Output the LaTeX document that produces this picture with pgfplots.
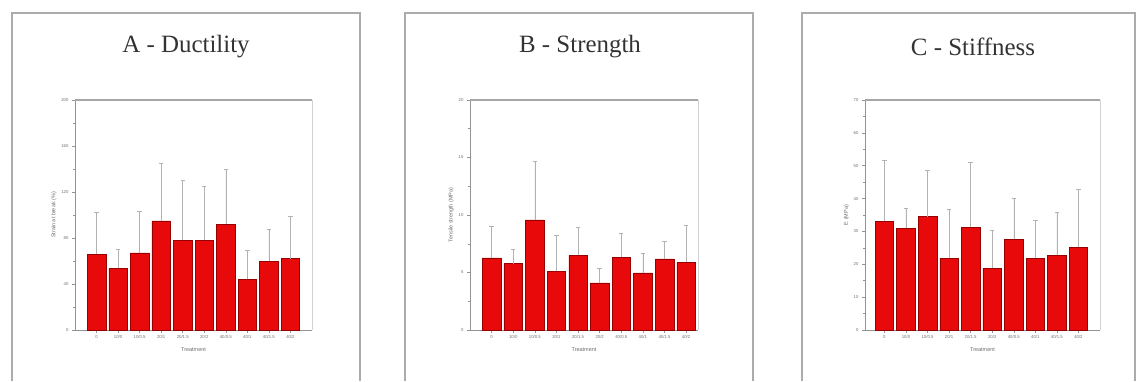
\documentclass[border=0pt]{standalone}
\usepackage{pgfplots}
\pgfplotsset{compat=1.18}
\usepackage{pgfplotstable}
\usepackage{fontspec}
\setmainfont{Liberation Serif}
\newfontfamily\sansf{Liberation Sans}
\definecolor{barred}{RGB}{232,10,10}
\definecolor{baredge}{RGB}{150,0,0}

\pgfplotstableread{
x y err
1 66 36
2 53.6 16.4
3 67 36
4 94.8 50.2
5 78 52
6 78 47
7 92 48
8 44 25.5
9 60 28
10 62 37
}\tabA
\pgfplotstableread{
x y err
1 6.28 2.77
2 5.78 1.22
3 9.58 5.12
4 5.10 3.16
5 6.48 2.48
6 4.09 1.31
7 6.34 2.04
8 4.96 1.74
9 6.19 1.49
10 5.90 3.24
}\tabB
\pgfplotstableread{
x y err
1 33.1 18.5
2 31.0 6.0
3 34.5 14.2
4 21.8 15.0
5 31.2 20.0
6 18.8 11.6
7 27.6 12.4
8 21.8 11.7
9 22.8 13.0
10 25.2 17.6
}\tabC

\pgfplotsset{
  panel/.style={
    scale only axis,
    anchor=south west,
    axis x line*=bottom,
    axis y line*=left,
    axis line style={-, gray!85, line width=0.7pt},
    ymin=0,
    xtick={1,...,10},
    xticklabels={0,10/0,10/0.5,20/1,20/1.5,20/2,40/0.5,40/1,40/1.5,40/2},
    tick style={gray!85, line width=0.5pt},
    tick align=outside,
    major tick length=3bp,
    minor tick length=1.8bp,
    minor y tick num=1,
    /pgf/number format/assume math mode=true,
    ticklabel style={font=\sansf\fontsize{4.3}{4.5}\selectfont, text=gray!85!black},
    xticklabel style={yshift=1bp},
    label style={font=\sansf\fontsize{5.5}{5.5}\selectfont, text=gray!85!black},
    xlabel={Treatment},
    xlabel style={yshift=-2bp},
    ylabel style={yshift=-2bp},
    clip=false,
  },
  redbars/.style={
    ybar, bar width=18.5bp, fill=barred, draw=baredge, line width=0.5pt,
    error bars/.cd, y dir=plus, y explicit,
    error bar style={gray!60, line width=0.5pt},
    error mark options={rotate=90, gray!60, mark size=2.2bp, line width=0.5pt},
  },
}

\begin{document}
\begin{tikzpicture}[x=1bp,y=1bp]
\useasboundingbox (0,0) rectangle (1139,381);
% panel frames
\draw[gray!65, line width=1.1pt] (12,0) -- (12,368) -- (360,368) -- (360,0);
\draw[gray!65, line width=1.1pt] (405,0) -- (405,368) -- (753,368) -- (753,0);
\draw[gray!65, line width=1.1pt] (802,0) -- (802,368) -- (1135,368) -- (1135,0);
% titles
\node[font=\fontsize{25}{25}\selectfont, text=black!80] at (186,334) {A - Ductility};
\node[font=\fontsize{25}{25}\selectfont, text=black!80] at (580,334) {B - Strength};
\node[font=\fontsize{25}{25}\selectfont, text=black!80] at (973,334) {C - Stiffness};

\begin{axis}[panel, at={(75bp,51bp)}, width=237bp, height=230bp,
  xmin=0, xmax=11, ymax=200, ytick={0,40,...,200},
  ylabel={Strain at break (\%)}]
\addplot[redbars] table[x=x, y=y, y error=err] {\tabA};
\draw[gray!70, line width=1.1pt] (rel axis cs:0,1) -- (rel axis cs:1,1);
\draw[gray!35, line width=0.6pt] (rel axis cs:1,0) -- (rel axis cs:1,1);
\end{axis}

\begin{axis}[panel, at={(470bp,51bp)}, width=228bp, height=230bp,
  xmin=0, xmax=10.55, ymax=20, ytick={0,5,...,20},
  ylabel={Tensile strength (MPa)}]
\addplot[redbars] table[x=x, y=y, y error=err] {\tabB};
\draw[gray!70, line width=1.1pt] (rel axis cs:0,1) -- (rel axis cs:1,1);
\draw[gray!35, line width=0.6pt] (rel axis cs:1,0) -- (rel axis cs:1,1);
\end{axis}

\begin{axis}[panel, at={(865bp,51bp)}, width=235bp, height=230bp,
  xmin=0.1, xmax=11, ymax=70, ytick={0,10,...,70},
  ylabel={E (MPa)}]
\addplot[redbars] table[x=x, y=y, y error=err] {\tabC};
\draw[gray!70, line width=1.1pt] (rel axis cs:0,1) -- (rel axis cs:1,1);
\draw[gray!35, line width=0.6pt] (rel axis cs:1,0) -- (rel axis cs:1,1);
\end{axis}
\end{tikzpicture}
\end{document}
